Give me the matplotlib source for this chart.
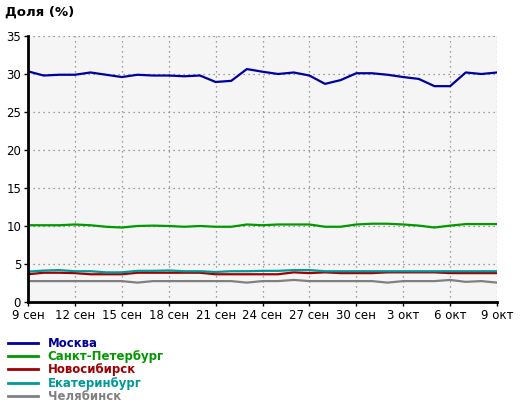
import matplotlib
matplotlib.use("Agg")
import matplotlib.pyplot as plt

# доли по городам, 9 сен - 9 окт (31 день)
moskva = [30.35, 29.8, 29.9, 29.9, 30.2, 29.9, 29.6, 29.9, 29.8, 29.8, 29.7, 29.8, 28.95, 29.1, 30.65,
          30.3, 30.0, 30.2, 29.8, 28.7, 29.2, 30.1, 30.1, 29.9, 29.6, 29.35, 28.4, 28.4, 30.2, 30.0, 30.2]
spb = [10.1, 10.1, 10.1, 10.2, 10.1, 9.9, 9.8, 10.0, 10.05, 10.0, 9.9, 10.0, 9.9, 9.9, 10.2,
       10.1, 10.2, 10.2, 10.2, 9.9, 9.9, 10.2, 10.3, 10.3, 10.2, 10.05, 9.8, 10.05, 10.25, 10.25, 10.25]
novosib = [3.65, 3.85, 3.85, 3.8, 3.65, 3.65, 3.65, 3.85, 3.85, 3.85, 3.85, 3.85, 3.65, 3.65, 3.65,
           3.65, 3.65, 3.9, 3.8, 3.9, 3.8, 3.8, 3.8, 3.9, 3.9, 3.9, 3.9, 3.8, 3.8, 3.8, 3.8]
ekb = [4.0, 4.13, 4.2, 4.05, 4.05, 3.9, 3.9, 4.1, 4.1, 4.15, 4.05, 4.05, 3.95, 4.05, 4.05,
       4.1, 4.1, 4.2, 4.2, 4.05, 4.05, 4.05, 4.05, 4.05, 4.05, 4.05, 4.05, 4.05, 4.05, 4.05, 4.05]
chel = [2.75, 2.75, 2.75, 2.75, 2.75, 2.75, 2.75, 2.55, 2.75, 2.75, 2.75, 2.75, 2.75, 2.75, 2.55,
        2.75, 2.75, 2.9, 2.75, 2.75, 2.75, 2.75, 2.75, 2.55, 2.75, 2.75, 2.75, 2.9, 2.65, 2.75, 2.55]

tick_labels = ['9 сен', '12 сен', '15 сен', '18 сен', '21 сен', '24 сен', '27 сен', '30 сен',
               '3 окт', '6 окт', '9 окт']
series = [('Москва', moskva, '#0000a0'),
          ('Санкт-Петербург', spb, '#009900'),
          ('Новосибирск', novosib, '#a00000'),
          ('Екатеринбург', ekb, '#009999'),
          ('Челябинск', chel, '#808080')]

fig = plt.figure(figsize=(5.2, 4.05), dpi=100)
ax = fig.add_axes([28/520, 1-302/405, (497-28)/520, (302-36)/405])
ax.set_facecolor('#f5f5f5')

x = list(range(len(moskva)))
for name, vals, col in series:
    ax.plot(x, vals, color=col, lw=1.6, label=name)

ax.set_xlim(0, 30)
ax.set_ylim(0, 35)
ax.set_xticks(range(0, 31, 3))
ax.set_xticklabels(tick_labels)
ax.set_yticks(range(0, 36, 5))
ax.tick_params(labelsize=8.5, length=3, width=1, pad=2)
ax.grid(True, color='#808080', linestyle=(0, (1, 3)), lw=0.9)
for s in ['top', 'right']:
    ax.spines[s].set_visible(False)
for s in ['left', 'bottom']:
    ax.spines[s].set_linewidth(2)

fig.text(5/520, 1-12/405, 'Доля (%)', fontsize=9.5, fontweight='bold', va='center')

leg = ax.legend(loc='upper left', bbox_to_anchor=(8/520, 1-337/405), bbox_transform=fig.transFigure,
                frameon=False, labelcolor='linecolor', prop={'weight': 'bold', 'size': 8.5},
                handlelength=2.5, handletextpad=0.85, labelspacing=0.02, borderpad=0.0,
                borderaxespad=0.0)
for h in leg.get_lines():
    h.set_linewidth(2)

fig.savefig('out.png', dpi=100)
